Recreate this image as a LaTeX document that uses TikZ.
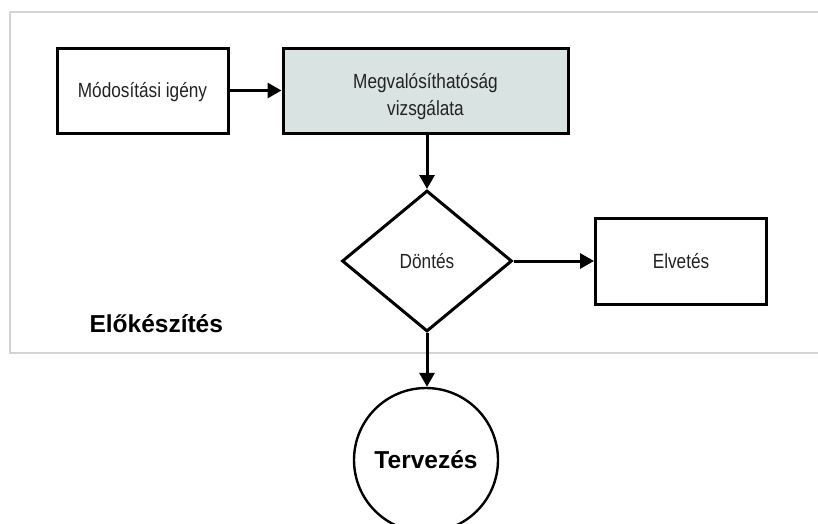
\documentclass[tikz,border=0pt]{standalone}
\usepackage{fontspec}
\setmainfont{Liberation Sans}
\newfontfamily\labelfont{Liberation Sans}[FakeStretch=0.84]
\usetikzlibrary{shapes.geometric,arrows.meta}
\definecolor{boxfill}{HTML}{D9E4E2}
\definecolor{framegray}{HTML}{D4D4D4}
\definecolor{labelgray}{HTML}{222222}
\tikzset{
  procbox/.style={draw=black, line width=3pt, rectangle, inner sep=0pt, text=labelgray, font=\labelfont\fontsize{20.5}{27}\selectfont, align=center},
  decbox/.style={draw=black, line width=3pt, diamond, inner sep=0pt, minimum width=170pt, minimum height=141pt, text=labelgray, font=\labelfont\fontsize{20.5}{27}\selectfont},
  termbox/.style={draw=black, line width=2.4pt, circle, inner sep=0pt, minimum size=144pt, font=\bfseries\fontsize{24.5}{28}\selectfont},
  flow/.style={line width=3pt, -{Triangle[length=14pt,width=15pt]}},
}
\begin{document}
\begin{tikzpicture}[x=1pt, y=-1pt]
\useasboundingbox (0,0) rectangle (818,523);
\draw[framegray, line width=2pt] (820,12) -- (10,12) -- (10,353) -- (820,353);
\node[procbox, minimum width=171pt, minimum height=85pt] (req) at (142.5,90.5) {\raisebox{-2pt}[\height][\depth]{Módosítási igény}};
\node[procbox, fill=boxfill, minimum width=285pt, minimum height=85pt] (feas) at (425.5,90.5) {\raisebox{-6pt}[\height][\depth]{\begin{tabular}{@{}c@{}}Megvalósíthatóság\\vizsgálata\end{tabular}}};
\node[decbox] (dec) at (427,261) {Döntés};
\node[procbox, minimum width=171pt, minimum height=86pt] (rej) at (681,261) {Elvetés};
\node[termbox] (plan) at (426,460) {Tervezés};
\node[font=\bfseries\fontsize{24.5}{28}\selectfont, anchor=base west] (phase) at (86,332) {Előkészítés};
\draw[flow] (req.east) -- (feas.west);
\draw[flow] (feas.south -| dec.north) -- (dec.north);
\draw[flow] (dec.east) -- (rej.west);
\draw[flow] (dec.south) -- (dec.south |- plan.north);
\end{tikzpicture}
\end{document}
